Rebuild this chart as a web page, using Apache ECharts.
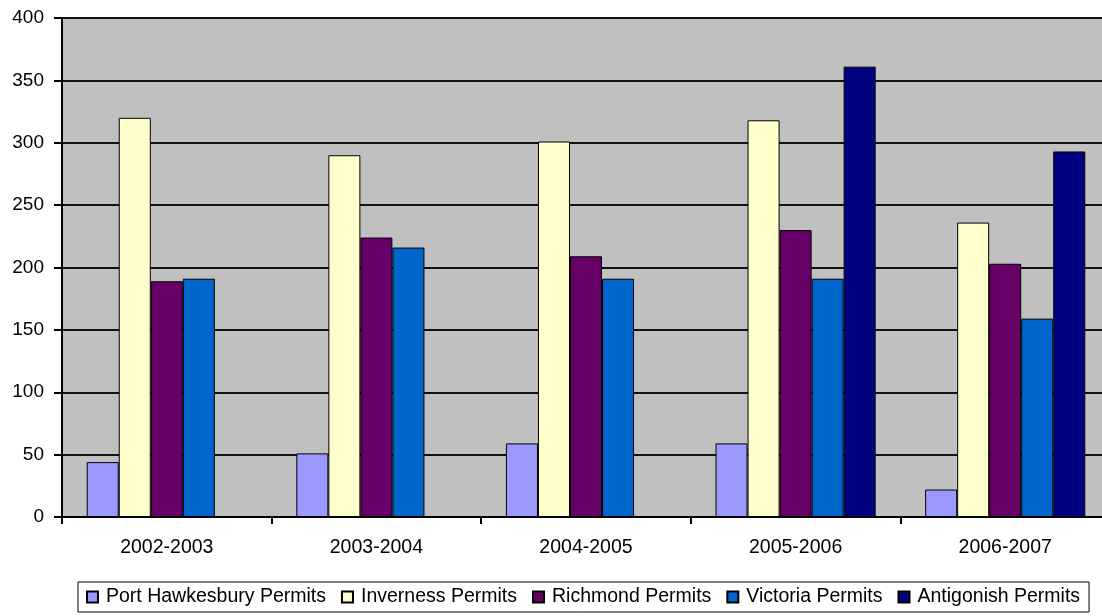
<!DOCTYPE html>
<html>
<head>
<meta charset="utf-8">
<script src="https://cdn.jsdelivr.net/npm/echarts@6/dist/echarts.min.js"></script>
<style>
  html, body { margin: 0; padding: 0; background: #fff; overflow: hidden; }
  #chart { width: 1110px; height: 616px; }
</style>
</head>
<body>
<div id="chart"></div>
<script>
// Building permits issued per fiscal year, by municipality
const categories = ['2002-2003', '2003-2004', '2004-2005', '2005-2006', '2006-2007'];
const portHawkesbury = [44, 51, 59, 59, 22];
const inverness = [320, 290, 301, 318, 236];
const richmond = [189, 224, 209, 230, 203];
const victoria = [191, 216, 191, 191, 159];
const antigonish = [null, null, null, 361, 293];
const yTicks = { min: 0, max: 400, interval: 50 };

const FONT = '"Liberation Sans", Arial, sans-serif';

function bar(name, data, color) {
  return {
    name: name,
    type: 'bar',
    data: data,
    barGap: '0%',
    barCategoryGap: '23.6%',
    itemStyle: { color: color, borderColor: '#000', borderWidth: 1 },
    emphasis: { disabled: true }
  };
}

const chart = echarts.init(document.getElementById('chart'), null, { renderer: 'canvas' });
chart.setOption({
  animation: false,
  backgroundColor: '#fff',
  textStyle: { fontFamily: FONT },
  grid: {
    left: 62, top: 18, right: 0, bottom: 99,
    show: true,
    backgroundColor: '#C0C0C0',
    borderColor: '#808080',
    borderWidth: 2
  },
  xAxis: {
    type: 'category',
    data: categories,
    axisLine: { lineStyle: { color: '#000', width: 2 } },
    axisTick: { show: true, length: 7, inside: false, lineStyle: { color: '#000', width: 2 } },
    axisLabel: { color: '#000', fontSize: 19.5, fontFamily: FONT, margin: 21 },
    splitLine: { show: false }
  },
  yAxis: {
    type: 'value',
    min: yTicks.min,
    max: yTicks.max,
    interval: yTicks.interval,
    axisLine: { show: true, lineStyle: { color: '#000', width: 2 } },
    axisTick: { show: true, length: 8, lineStyle: { color: '#000', width: 2 } },
    axisLabel: { color: '#000', fontSize: 19, fontFamily: FONT, margin: 18 },
    splitLine: { show: true, lineStyle: { color: '#111', width: 2 } }
  },
  legend: {
    left: 78,
    top: 582,
    orient: 'horizontal',
    icon: 'rect',
    itemWidth: 11,
    itemHeight: 11,
    itemGap: 15,
    padding: [5, 9, 5, 8],
    borderColor: '#000',
    borderWidth: 1,
    textStyle: { color: '#000', fontSize: 19.5, fontFamily: FONT, padding: [0, 0, 0, 3] },
    data: ['Port Hawkesbury Permits', 'Inverness Permits', 'Richmond Permits', 'Victoria Permits', 'Antigonish Permits']
  },
  series: [
    bar('Port Hawkesbury Permits', portHawkesbury, '#9999FF'),
    bar('Inverness Permits', inverness, '#FFFFCC'),
    bar('Richmond Permits', richmond, '#660066'),
    bar('Victoria Permits', victoria, '#0066CC'),
    bar('Antigonish Permits', antigonish, '#000080')
  ]
});
</script>
</body>
</html>
